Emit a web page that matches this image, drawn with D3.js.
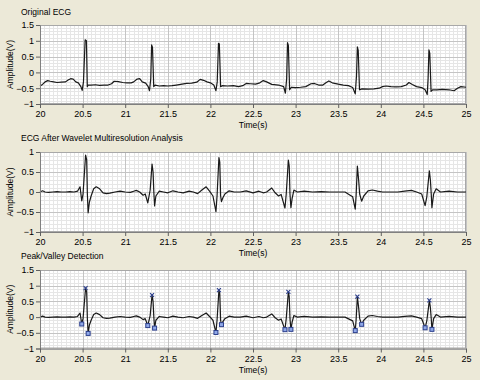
<!DOCTYPE html>
<html>
<head>
<meta charset="utf-8">
<script src="https://cdn.jsdelivr.net/npm/d3@7"></script>
<style>
  body { margin: 0; background: #ece9d8; }
  svg { display: block; font-family: "Liberation Sans", Arial, sans-serif; }
  .title, .axis-label { font-size: 8.5px; fill: #000; }
  .tick text { font-size: 9px; fill: #000; }
</style>
</head>
<body>
<svg width="480" height="380"></svg>
<script>
// readings, [time (s), amplitude (V)]
var originalEcg = [
  [20.00,-0.43],[20.03,-0.38],[20.06,-0.30],[20.09,-0.26],[20.12,-0.28],[20.16,-0.30],
  [20.20,-0.32],[20.25,-0.31],[20.30,-0.30],[20.33,-0.24],[20.36,-0.20],[20.39,-0.21],
  [20.42,-0.30],[20.45,-0.33],[20.48,-0.45],[20.495,-0.57],[20.51,-0.30],[20.53,1.03],
  [20.545,1.00],[20.555,-0.45],[20.565,-0.40],[20.60,-0.40],[20.65,-0.39],[20.70,-0.41],
  [20.75,-0.40],[20.80,-0.40],[20.84,-0.36],[20.87,-0.28],[20.92,-0.29],[20.97,-0.32],
  [21.02,-0.33],[21.07,-0.33],[21.10,-0.30],[21.14,-0.21],[21.17,-0.20],[21.20,-0.30],
  [21.24,-0.34],[21.27,-0.45],[21.285,-0.58],[21.30,-0.20],[21.31,0.87],[21.32,0.80],
  [21.335,-0.45],[21.35,-0.40],[21.40,-0.43],[21.45,-0.42],[21.50,-0.43],[21.55,-0.42],
  [21.60,-0.40],[21.65,-0.38],[21.72,-0.35],[21.78,-0.34],[21.84,-0.31],[21.88,-0.22],
  [21.92,-0.25],[21.96,-0.30],[22.00,-0.33],[22.04,-0.40],[22.065,-0.58],[22.08,-0.30],
  [22.095,0.92],[22.105,0.90],[22.12,-0.45],[22.14,-0.42],[22.20,-0.43],[22.27,-0.42],
  [22.33,-0.45],[22.38,-0.42],[22.42,-0.35],[22.47,-0.36],[22.53,-0.37],[22.58,-0.33],
  [22.62,-0.26],[22.66,-0.30],[22.72,-0.38],[22.80,-0.40],[22.86,-0.45],[22.88,-0.66],
  [22.895,-0.20],[22.905,0.94],[22.915,0.85],[22.93,-0.55],[22.95,-0.47],[23.00,-0.48],
  [23.06,-0.47],[23.12,-0.45],[23.18,-0.36],[23.22,-0.35],[23.27,-0.40],[23.32,-0.40],
  [23.36,-0.32],[23.39,-0.27],[23.43,-0.33],[23.50,-0.37],[23.56,-0.40],[23.62,-0.42],
  [23.67,-0.48],[23.70,-0.68],[23.715,-0.10],[23.725,0.81],[23.735,0.70],[23.75,-0.55],
  [23.78,-0.52],[23.85,-0.53],[23.92,-0.52],[23.98,-0.50],[24.02,-0.45],[24.06,-0.43],
  [24.12,-0.45],[24.18,-0.46],[24.24,-0.45],[24.30,-0.40],[24.33,-0.32],[24.37,-0.38],
  [24.42,-0.45],[24.48,-0.48],[24.52,-0.55],[24.545,-0.70],[24.555,-0.20],[24.565,0.71],
  [24.575,0.60],[24.59,-0.60],[24.61,-0.55],[24.66,-0.55],[24.72,-0.54],[24.80,-0.55],
  [24.86,-0.58],[24.90,-0.50],[24.94,-0.45],[25.00,-0.47]
]

var waveletEcg = [
  [20.00,0.00],[20.03,0.03],[20.06,0.00],[20.10,-0.01],[20.15,0.00],[20.20,0.01],
  [20.25,0.00],[20.30,0.00],[20.35,0.01],[20.40,0.00],[20.44,0.02],[20.47,0.13],
  [20.49,-0.22],[20.505,-0.05],[20.535,0.92],[20.548,0.80],[20.556,-0.05],[20.565,-0.52],
  [20.58,-0.25],[20.60,-0.10],[20.63,0.08],[20.66,0.13],[20.70,0.08],[20.74,-0.02],
  [20.78,-0.04],[20.82,-0.03],[20.88,0.00],[20.94,0.02],[21.00,0.00],[21.06,-0.01],
  [21.10,0.02],[21.13,0.04],[21.17,0.00],[21.21,-0.08],[21.235,-0.05],[21.265,-0.27],
  [21.28,-0.10],[21.293,0.05],[21.315,0.70],[21.327,0.50],[21.336,0.00],[21.345,-0.35],
  [21.36,-0.10],[21.40,0.02],[21.45,0.00],[21.50,-0.02],[21.56,0.03],[21.62,0.00],
  [21.68,-0.02],[21.75,0.02],[21.80,0.00],[21.85,-0.04],[21.90,0.05],[21.95,0.13],
  [21.99,0.02],[22.03,-0.10],[22.065,-0.49],[22.078,-0.10],[22.10,0.86],[22.11,0.75],
  [22.12,-0.10],[22.13,-0.24],[22.145,-0.15],[22.17,-0.05],[22.22,0.03],[22.28,0.00],
  [22.35,0.00],[22.42,0.03],[22.50,-0.02],[22.57,0.02],[22.62,-0.02],[22.66,0.00],
  [22.72,0.10],[22.76,-0.02],[22.80,-0.10],[22.83,-0.06],[22.875,-0.40],[22.89,-0.05],
  [22.915,0.80],[22.925,0.65],[22.934,-0.05],[22.945,-0.39],[22.96,-0.15],[22.98,0.05],
  [23.02,0.00],[23.10,0.02],[23.20,0.00],[23.30,0.01],[23.40,0.00],[23.50,0.00],
  [23.58,0.00],[23.64,-0.08],[23.67,-0.12],[23.70,-0.43],[23.71,-0.10],[23.725,0.65],
  [23.74,0.30],[23.752,-0.05],[23.775,-0.23],[23.80,-0.10],[23.85,0.03],[23.90,0.05],
  [23.96,0.02],[24.02,0.00],[24.10,0.00],[24.20,0.00],[24.28,0.02],[24.36,0.04],
  [24.42,0.00],[24.48,-0.05],[24.52,-0.34],[24.54,-0.12],[24.57,0.53],[24.582,0.30],
  [24.592,-0.05],[24.60,-0.39],[24.62,-0.05],[24.65,0.08],[24.70,0.00],[24.80,0.02],
  [24.90,0.00],[25.00,0.00]
]

// detected peaks (x markers) and valleys (square markers)
var peaks = [[20.535,0.92],[21.315,0.70],[22.10,0.86],[22.915,0.80],[23.725,0.65],[24.57,0.53]]
var valleys = [
  [20.49,-0.22],[20.565,-0.52],[21.265,-0.27],[21.345,-0.35],[22.065,-0.49],[22.13,-0.24],
  [22.875,-0.40],[22.945,-0.39],[23.70,-0.43],[23.775,-0.23],[24.52,-0.34],[24.60,-0.39]
]

var timeTicks = [20, 20.5, 21, 21.5, 22, 22.5, 23, 23.5, 24, 24.5, 25]
var ampTicksWide = [-1, -0.5, 0, 0.5, 1, 1.5]
var ampTicksNarrow = [-1, -0.5, 0, 0.5, 1]

var titles = ["Original ECG", "ECG After Wavelet Multiresolution Analysis", "Peak/Valley Detection"]

var
  svg = d3.select("svg"),
  left = 40, right = 466

var panels = [
  { title: titles[0], data: originalEcg, domain: [-1, 1.5], ticks: ampTicksWide, top: 25, bottom: 104, titleY: 15 },
  { title: titles[1], data: waveletEcg, domain: [-1, 1], ticks: ampTicksNarrow, top: 152, bottom: 232, titleY: 141 },
  { title: titles[2], data: waveletEcg, domain: [-1, 1.5], ticks: ampTicksWide, top: 270, bottom: 348.5, titleY: 259, markers: true }
]

panels.forEach(function(p) {
  var
    x = d3.scaleLinear().domain([20, 25]).range([left, right]),
    y = d3.scaleLinear().domain(p.domain).range([p.bottom, p.top])

  var g = svg.append("g")

  g.append("rect")
    .attr("x", left).attr("y", p.top)
    .attr("width", right - left).attr("height", p.bottom - p.top)
    .style("fill", "white")

  // minor grid
  var minorX = d3.range(20, 25.0001, 0.05), minorY = d3.range(p.domain[0], p.domain[1] + 0.0001, 0.1)
  g.selectAll(".minor-x").data(minorX).enter().append("line")
    .attr("x1", d => Math.round(x(d)) + 0.5).attr("x2", d => Math.round(x(d)) + 0.5)
    .attr("y1", p.top).attr("y2", p.bottom)
    .style("stroke", "#e6e6e6")
  g.selectAll(".minor-y").data(minorY).enter().append("line")
    .attr("y1", d => Math.round(y(d)) + 0.5).attr("y2", d => Math.round(y(d)) + 0.5)
    .attr("x1", left).attr("x2", right)
    .style("stroke", "#e6e6e6")

  // major grid
  g.selectAll(".major-x").data(timeTicks).enter().append("line")
    .attr("x1", d => Math.round(x(d)) + 0.5).attr("x2", d => Math.round(x(d)) + 0.5)
    .attr("y1", p.top).attr("y2", p.bottom)
    .style("stroke", "#c4c4c4")
  g.selectAll(".major-y").data(p.ticks).enter().append("line")
    .attr("y1", d => Math.round(y(d)) + 0.5).attr("y2", d => Math.round(y(d)) + 0.5)
    .attr("x1", left).attr("x2", right)
    .style("stroke", "#c4c4c4")

  g.append("rect")
    .attr("x", left + 0.5).attr("y", p.top + 0.5)
    .attr("width", right - left - 1).attr("height", p.bottom - p.top - 1)
    .style("fill", "none").style("stroke", "#a8a8a8")

  var line = d3.line()
    .x(d => x(d[0]))
    .y(d => y(d[1]))

  g.append("path")
    .attr("d", line(p.data))
    .style("fill", "none")
    .style("stroke", "#1a1a1a")
    .style("stroke-width", 1.2)
    .style("stroke-linejoin", "round")

  if (p.markers) {
    g.selectAll(".valley").data(valleys).enter().append("rect")
      .attr("x", d => x(d[0]) - 2).attr("y", d => y(d[1]) - 2)
      .attr("width", 4).attr("height", 4)
      .style("fill", "#8fa8e8").style("stroke", "#2c3f8c").style("stroke-width", 1)
    g.selectAll(".peak").data(peaks).enter().append("path")
      .attr("d", d => {
        var cx = x(d[0]), cy = y(d[1])
        return `M${cx - 2},${cy - 2}L${cx + 2},${cy + 2}M${cx - 2},${cy + 2}L${cx + 2},${cy - 2}`
      })
      .style("stroke", "#2c3f8c").style("stroke-width", 1.1)
  }

  var yAxis = g.append("g")
    .attr("transform", `translate(${left},0)`)
    .call(d3.axisLeft(y).tickValues(p.ticks).tickSize(4).tickPadding(2).tickFormat(d3.format("")))
  yAxis.select(".domain").style("stroke", "#808080")
  yAxis.selectAll(".tick line").style("stroke", "#606060")

  var xAxis = g.append("g")
    .attr("transform", `translate(0,${p.bottom})`)
    .call(d3.axisBottom(x).tickValues(timeTicks).tickSize(4).tickPadding(3).tickFormat(d3.format("")))
  xAxis.select(".domain").style("stroke", "#808080")
  xAxis.selectAll(".tick line").style("stroke", "#606060")

  g.append("text").attr("class", "title")
    .attr("x", 21).attr("y", p.titleY)
    .text(p.title)

  g.append("text").attr("class", "axis-label")
    .attr("x", (left + right) / 2).attr("y", p.bottom + 24)
    .style("text-anchor", "middle")
    .text("Time(s)")

  g.append("text").attr("class", "axis-label")
    .attr("transform", `translate(13,${(p.top + p.bottom) / 2}) rotate(-90)`)
    .style("text-anchor", "middle")
    .text("Amplitude(V)")
})
</script>
</body>
</html>
